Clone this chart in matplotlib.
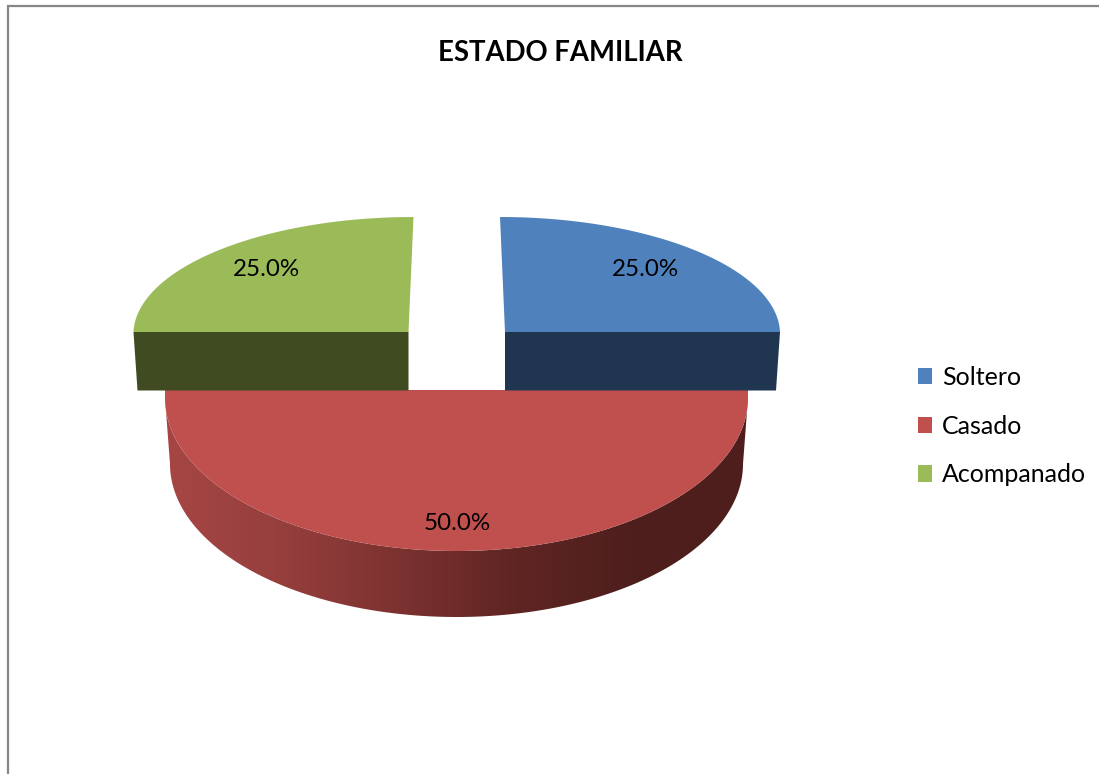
import numpy as np
import matplotlib
matplotlib.use("Agg")
import matplotlib.pyplot as plt
from matplotlib.patches import Polygon, Patch
from matplotlib.colors import LinearSegmentedColormap

plt.rcParams['font.family'] = ['Lato', 'DejaVu Sans']

# data
categories = ["Soltero", "Casado", "Acompanado"]
shares = [25.0, 50.0, 25.0]
title = "ESTADO FAMILIAR"

# colours
top_colors = ["#4F81BD", "#C0504D", "#9BBB59"]
side_colors = ["#1F3550", "#C0504D", "#404B22"]
red_ramp = ["#A64644", "#953F3D", "#7C3230", "#5F2523", "#4E1F1D", "#4D1E1C"]

# layout in pixels, one entry per slice
centers = [(505, 332), (456.5, 398), (408.5, 332)]
radii = [(275, 115), (291.5, 153), (275, 115)]
leans = [-5, 0, 5]
label_pos = [(645, 270), (457, 523), (266, 270)]

W, H = 1099, 774
fig = plt.figure(figsize=(W / 100, H / 100), dpi=100)
ax = fig.add_axes([0, 0, 1, 1])
ax.set_xlim(0, W)
ax.set_ylim(H, 0)
ax.axis("off")

# slice angles come from the shares, clockwise from twelve o'clock
ends = 90 - np.cumsum(shares) / sum(shares) * 360
starts = np.r_[90, ends[:-1]]


def arc(i, a0, a1, dy=0, shrink=0):
    t = np.radians(np.linspace(a0, a1, 200))
    cx, cy = centers[i]
    rx, ry = radii[i]
    x = cx + (rx - shrink) * np.cos(t) + leans[i] * np.sin(t)
    y = cy + dy - ry * np.sin(t)
    return np.c_[x, y]


# border only shows on top and left
ax.plot([8, 8, W], [H, 6, 6], color="#868686", lw=1.6, solid_joinstyle="miter", zorder=1)

# casado, sits behind the two others
depth = 66
top_arc = arc(1, starts[1], ends[1])
low_arc = arc(1, starts[1], ends[1], dy=depth, shrink=5)
side = Polygon(np.r_[top_arc, low_arc[::-1]], closed=True, fc="none", ec="none", zorder=2)
ax.add_patch(side)
cmap = LinearSegmentedColormap.from_list("red_side", red_ramp)
grad = ax.imshow(np.linspace(0, 1, 256)[None, :], cmap=cmap, aspect="auto",
                 extent=[165, 748, 630, 390], zorder=2)
grad.set_clip_path(side)
ax.set_xlim(0, W)
ax.set_ylim(H, 0)

cut_y = 390
cx, cy = centers[1]
rx, ry = radii[1]
face = np.r_[[[cx + rx, cut_y]], top_arc, [[cx - rx, cut_y]]]
ax.add_patch(Polygon(face, closed=True, fc=top_colors[1], ec="none", zorder=3))

# the two upper slices with their front wall
wall_depth = 58.5
for i in (0, 2):
    a0, a1 = starts[i], ends[i]
    pts = arc(i, a0, a1)
    cx, cy = centers[i]
    outer = pts[-1] if i == 0 else pts[0]
    ax.add_patch(Polygon(np.r_[pts, [[cx, cy]]], closed=True, fc=top_colors[i], ec="none", zorder=4))
    step = -4 if i == 0 else 4
    wall = [[cx, cy], outer, [outer[0] + step, cy + wall_depth], [cx, cy + wall_depth]]
    ax.add_patch(Polygon(wall, closed=True, fc=side_colors[i], ec="none", zorder=4))

for i, lab in enumerate(shares):
    ax.text(label_pos[i][0], label_pos[i][1], "%.1f%%" % lab, ha="center", va="center",
            fontsize=17.4, color="black", zorder=5)

ax.text(560, 53, title, ha="center", va="center", fontsize=19.8, fontweight="bold",
        color="black", zorder=5)

handles = [Patch(fc=c, ec="none") for c in top_colors]
leg = ax.legend(handles, categories, loc="upper left", bbox_to_anchor=(918, 366),
                bbox_transform=ax.transData, frameon=False, fontsize=18,
                handlelength=0.56, handleheight=0.64, handletextpad=0.4,
                labelspacing=1.03, borderpad=0, borderaxespad=0)

fig.savefig("out.png", dpi=100)
